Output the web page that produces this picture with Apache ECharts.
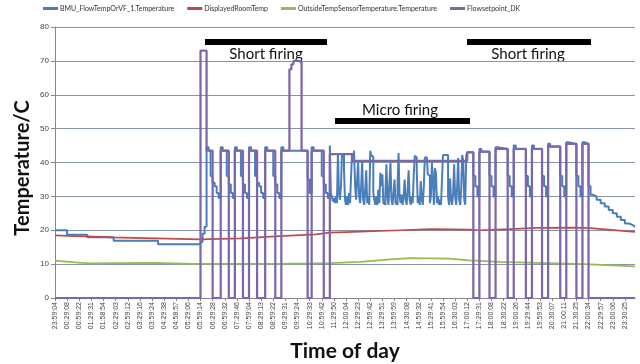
<!DOCTYPE html>
<html>
<head>
<meta charset="utf-8">
<script src="https://cdn.jsdelivr.net/npm/echarts@6/dist/echarts.min.js"></script>
<style>html,body{margin:0;padding:0;background:#fff}#c{width:640px;height:364px}</style>
</head>
<body>
<div id="c"></div>
<script>
// ---- tick labels (one every 6 samples) ----
const xLabels = ['23:59:04','00:29:08','00:59:22','01:29:31','01:58:54','02:29:03','02:59:12','03:29:16','03:59:24','04:29:38','04:58:57','05:29:06','05:59:14','06:29:28','06:59:32','07:29:46','07:59:04','08:29:13','08:59:22','09:29:31','09:59:24','10:29:33','10:59:42','11:29:50','12:00:04','12:29:23','12:59:42','13:29:51','13:59:59','14:30:08','14:59:32','15:29:41','15:59:54','16:30:03','17:00:12','17:29:31','18:00:08','18:30:22','19:00:26','19:29:44','19:59:53','20:30:07','21:00:11','21:30:25','22:00:34','22:29:57','23:00:06','23:30:25'];
const samplesPerLabel = 6;
const lastSample = 287;
const seriesNames = ['BMU_FlowTempOrVF_1.Temperature','DisplayedRoomTemp','OutsideTempSensorTemperature.Temperature','Flowsetpoint_DK'];

// ---- series values as [sample position, value] (stepped series hold value until next point) ----
const flowTemp = [[0,20],[6,18.7],[16,17.9],[29,16.9],[51,15.9],[72,16.5],[73,19],[74,21],
 [75,44.5],[76,43.5],[77,36],[78,34],[79,33],[80,31],[81,29.5],
 [82,44.5],[83,43.5],[85,36],[86,33.5],[87,31],[88,29.5],
 [89,44.5],[90,43.5],[92,36],[93,33.5],[94,31],[95,29.5],
 [96,44.5],[97,43.5],[99,36],[100,34],[101,33],[102,31],[103,29.5],
 [104,44.5],[105,43.5],[108,36],[109,33.5],[110,31],[111,29.5],
 [112,44.5],[113,43.5],[125,35],[126,31],
 [127,44.5],[128,43.5],[132,36],[133,33.5],[134,31],[135,29.5],
 [136,45],[136.5,31],[137,30],[137.5,28.5],[138,29.5],[138.5,28],[139,30],[139.5,28],[140,42.8],[140.5,31],[141,29],[141.5,33],[142,42.2],[143,38],[143.5,29],[144,27.5],[144.5,30],[145,27.5],[145.5,31],[146,28],[146.5,36],[147,42.8],[147.5,40],[148,43.5],[148.5,33],[149,29],[149.5,35],[150,40],[150.5,30],[151,28],[151.5,33],[152,40.5],[152.5,29],[153,27.5],[153.5,32],[154,37.7],[154.5,28],[155,30],[155.5,27.5],[156,43.5],[156.5,42],[157,41.8],[157.5,31],[158,29],[158.5,27.5],[159,30],[159.5,27.5],[160,32],[160.5,28],[161,37],[161.5,33],[162,36.5],[162.5,28],[163,27.5],[163.5,31],[164,39.5],[164.5,30],[165,27.5],[165.5,34],[166,40],[166.5,29],[167,27.5],[167.5,31],[168,35],[168.5,28],[169,27.5],[169.5,33],[170,42.8],[170.5,30],[171,28],[171.5,30.5],[172,27.5],[172.5,30],[173,35],[173.5,29],[174,27.5],[174.5,32],[175,37.7],[175.5,29],[176,27.5],[176.5,30],[177,28],[177.5,36],[178,42],[178.5,41.5],[179,38],[179.5,28],[180,30],[180.5,27.5],[181,34.5],[181.5,29],[182,27.5],[182.5,33],[183,41.5],[184,41.3],[184.5,36.5],[185,36],[185.5,28],[186,30],[186.5,40],[187,35],[187.5,27.5],[188,38.3],[188.5,37],[189,28],[189.5,30],[190,27.5],[190.5,29],[191,27.5],[191.5,35],[192,42.2],[194.5,30],[195,27.5],[195.5,35.3],[196,29],[196.5,27.5],[197,31],[197.5,39.5],[198,30],[198.5,27.5],[199,33],[199.5,41.3],[200,29],[200.5,27.5],[201,32],[201.5,42.2],[202,40.5],[202.5,29],[203,27.5],[203.5,42.2],[204,43],
 [207,36],[208,33],[209,30],
 [210,44],[211,43.2],[215,36],[216,33],[217,30],
 [218,44.5],[219,44],[224,36],[225,33],[226,30],
 [227,45],[228,44],[233,36],[234,33],[235,30],
 [236,45],[237,44],[241,36],[242,33],[243,30],
 [244,45.5],[245,44.7],[250,36],[251,33],[252,30],
 [253,46],[254,45.5],[258,36],[259,33],[260,30],
 [261,46],[262,45.5],[264,33],[265,30.5],[266,30],[268,29],[270,28],[272,27],[274,26],[276,25],[278,24],[280,23],[282,22],[284,21.5],[286,21],[287,21]];
const roomTemp = [[0,18.5],[10,18.3],[16,18.2],[28,17.9],[50,17.6],[72,17.3],[92,17.6],[111,18.3],[129,18.8],[136,19.3],[151,19.6],[171,20],[186,20.3],[205,20.2],[210,20],[225,20.3],[238,20.7],[257,20.8],[265,20.6],[275,20.1],[287,19.5]];
const outsideTemp = [[0,11],[10,10.5],[17,10.2],[30,10.3],[50,10.4],[68,10.1],[110,10.1],[125,10.2],[136,10.3],[151,10.7],[166,11.4],[176,11.8],[195,11.6],[205,11.1],[220,10.7],[238,10.4],[262,10],[287,9.3]];
const flowSetpoint = [[0,0],[72,73],[75,43.5],[78,0],[82,43.5],[86,0],[89,43.5],[93,0],[96,43.5],[100,0],[104,43.5],[109,0],[112,43.5],[116,67.5],[117,69],[118,70],[121,69.5],[122,43.5],[125,0],[127,43.5],[133,0],[136,42.5],[147,40.5],[204,43],[207,0],[210,43.2],[215,0],[218,44],[224,0],[227,44],[233,0],[236,44],[241,0],[244,44.7],[250,0],[253,45.5],[258,0],[261,45.5],[264,0],[287,0]];

const colors = ['#4a7ebb', '#be4b48', '#98b954', '#7c67ab'];

const chart = echarts.init(document.getElementById('c'), null, {renderer: 'canvas'});
chart.setOption({
  animation: false,
  color: colors,
  legend: {
    left: 43, top: 5, itemGap: 13, itemWidth: 15, itemHeight: 3, icon: 'rect', padding: 0,
    textStyle: {fontSize: 7, fontFamily: 'Lato', color: '#333', padding: [0, 0, 0, -3]},
    data: seriesNames
  },
  grid: {left: 55, right: 5, top: 27, bottom: 66},
  xAxis: {
    type: 'value', min: 0, max: lastSample, interval: samplesPerLabel,
    axisLine: {onZero: false, lineStyle: {color: '#868686', width: 1}},
    axisTick: {show: true, length: 3, lineStyle: {color: '#868686'}},
    axisLabel: {
      rotate: 90, fontSize: 7, fontFamily: 'Liberation Sans', color: '#444', margin: 4,
      showMaxLabel: false,
      formatter: (v) => (v % samplesPerLabel === 0 ? (xLabels[v / samplesPerLabel] || '') : '')
    },
    splitLine: {show: false}
  },
  yAxis: {
    type: 'value', min: 0, max: 80, interval: 10,
    axisLine: {show: true, lineStyle: {color: '#868686'}},
    axisTick: {show: true, length: 4, lineStyle: {color: '#868686'}},
    axisLabel: {fontSize: 8, fontFamily: 'Liberation Sans', color: '#444', margin: 6},
    splitLine: {lineStyle: {color: '#8795a6', width: 1}}
  },
  series: [
    {name: seriesNames[0], type: 'line', data: flowTemp, step: 'end', showSymbol: false, lineStyle: {width: 2, color: colors[0]}},
    {name: seriesNames[1], type: 'line', data: roomTemp, showSymbol: false, lineStyle: {width: 1.75, color: colors[1]}},
    {name: seriesNames[2], type: 'line', data: outsideTemp, showSymbol: false, lineStyle: {width: 1.75, color: colors[2]}},
    {name: seriesNames[3], type: 'line', data: flowSetpoint, step: 'end', showSymbol: false, lineStyle: {width: 2.25, color: colors[3]}}
  ],
  graphic: [
    {type: 'rect', shape: {x: 205, y: 39, width: 122, height: 6}, style: {fill: '#000'}},
    {type: 'rect', shape: {x: 335, y: 118, width: 135, height: 6}, style: {fill: '#000'}},
    {type: 'rect', shape: {x: 467, y: 39, width: 124, height: 6}, style: {fill: '#000'}},
    {type: 'text', x: 266, y: 54, style: {text: 'Short firing', fontSize: 15, fontFamily: 'Lato', fill: '#111', align: 'center', verticalAlign: 'middle', textAlign: 'center', textVerticalAlign: 'middle'}},
    {type: 'text', x: 400, y: 110, style: {text: 'Micro firing', fontSize: 15, fontFamily: 'Lato', fill: '#111', align: 'center', verticalAlign: 'middle', textAlign: 'center', textVerticalAlign: 'middle'}},
    {type: 'text', x: 528, y: 54, style: {text: 'Short firing', fontSize: 15, fontFamily: 'Lato', fill: '#111', align: 'center', verticalAlign: 'middle', textAlign: 'center', textVerticalAlign: 'middle'}},
    {type: 'text', x: 23, y: 168, rotation: Math.PI / 2, style: {text: 'Temperature/C', fontSize: 20, fontWeight: 'bold', fontFamily: 'Lato', fill: '#111', align: 'center', verticalAlign: 'middle', textAlign: 'center', textVerticalAlign: 'middle'}},
    {type: 'text', x: 345, y: 351, style: {text: 'Time of day', fontSize: 21, fontWeight: 'bold', fontFamily: 'Lato', fill: '#111', align: 'center', verticalAlign: 'middle', textAlign: 'center', textVerticalAlign: 'middle'}}
  ]
});
</script>
</body>
</html>
